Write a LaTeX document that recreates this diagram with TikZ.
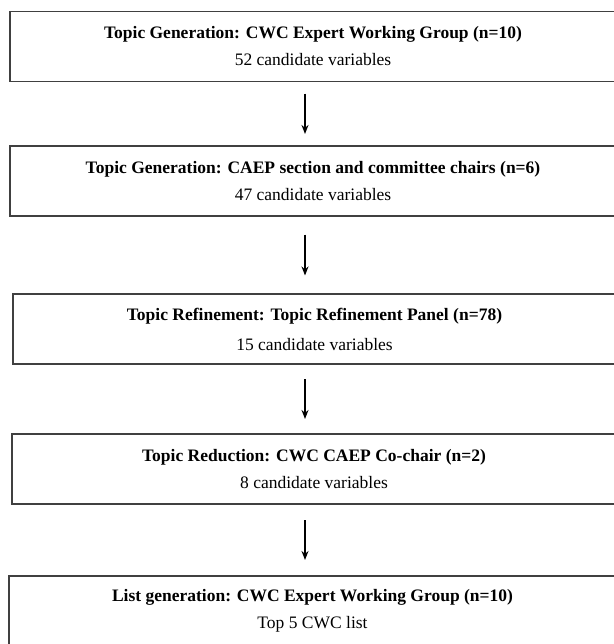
\documentclass[tikz,border=0pt]{standalone}
\usepackage{fontspec}
\setmainfont{Liberation Serif}
\usetikzlibrary{arrows.meta}
\usetikzlibrary{positioning}

\begin{document}
\begin{tikzpicture}[x=1pt, y=-1pt, >={Stealth[length=9pt, width=7pt]},
    stagebox/.style={draw=black!75, line width=1.1pt, minimum width=606pt, minimum height=70pt, inner sep=0pt, align=center, font=\fontsize{17.5}{21}\selectfont},
    flow/.style={->, line width=1.4pt}]
    \useasboundingbox (0,0) rectangle (613,644);

    % Stages
    \node[stagebox] (gen) at (313,46.5) {\textbf{Topic Generation: CWC Expert Working Group (n=10)}\\[6pt]52 candidate variables};
    \node[stagebox] (caep) at (313,181) {\textbf{Topic Generation: CAEP section and committee chairs (n=6)}\\[6pt]47 candidate variables};
    \node[stagebox, minimum width=603pt] (refine) at (314.5,329) {\textbf{Topic Refinement: Topic Refinement Panel (n=78)}\\[9pt]15 candidate variables};
    \node[stagebox, minimum width=604pt] (reduce) at (314,469) {\textbf{Topic Reduction: CWC CAEP Co-chair (n=2)}\\[6pt]8 candidate variables};
    \node[stagebox, minimum width=607pt] (list) at (312.5,611) {\textbf{List generation: CWC Expert Working Group (n=10)}\\[6pt]Top 5 CWC list};

    % Arrows
    \draw[flow, shorten <=11.5pt, shorten >=11.5pt] ([xshift=-8pt]gen.south) -- ([xshift=-8pt]caep.north);
    \draw[flow, shorten <=18pt, shorten >=18pt] ([xshift=-8pt]caep.south) -- ([xshift=-9.5pt]refine.north);
    \draw[flow, shorten <=14.5pt, shorten >=14.5pt] ([xshift=-9.5pt]refine.south) -- ([xshift=-9pt]reduce.north);
    \draw[flow, shorten <=15.5pt, shorten >=15.5pt] ([xshift=-9pt]reduce.south) -- ([xshift=-7.5pt]list.north);
\end{tikzpicture}
\end{document}
